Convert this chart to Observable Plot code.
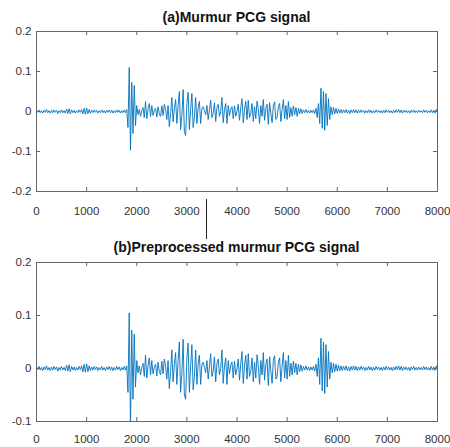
<!DOCTYPE html>
<html>
<head>
<meta charset="utf-8">
<script src="https://cdn.jsdelivr.net/npm/d3@7"></script>
<script src="https://cdn.jsdelivr.net/npm/@observablehq/plot@0.6"></script>
<style>
  html, body { margin: 0; padding: 0; background: #fff; }
  #wrap { position: relative; width: 450px; height: 447px; overflow: hidden; font-family: "Liberation Sans", Arial, sans-serif; }
  .title { position: absolute; left: 36px; width: 401px; text-align: center; font-weight: bold; font-size: 14px; line-height: 16px; color: #111; white-space: nowrap; }
  .panel { position: absolute; left: 0; }
  #cursor { position: absolute; left: 206px; top: 199px; width: 1px; height: 40px; background: #222; }
</style>
</head>
<body>
<div id="wrap">
  <div class="panel" id="pa" style="top:0px"></div>
  <div class="panel" id="pb" style="top:222px"></div>
  <div class="title" style="top:9px">(a)Murmur PCG signal</div>
  <div class="title" style="top:239px">(b)Preprocessed murmur PCG signal</div>
  <div id="cursor"></div>
</div>
<script>
// sample spacing of the listed values (samples)
const sampleStep = 25;
// amplitudes in thousandths, one every 25 samples from 0 to 8000
const murmurSignal = [
  3,-2,4,-3,2,-4,3,-2,5,-3,
  2,-4,3,-3,4,-2,3,-5,2,-3,
  4,-3,2,-4,6,-5,7,-6,4,-3,
  3,-4,2,-3,4,-2,5,-6,8,-7,
  9,-6,5,-4,3,-3,4,-2,3,-4,
  2,-3,4,-3,2,-4,3,-2,4,-3,
  3,-4,2,-3,4,-2,3,-4,2,-3,
  4,-3,5,
  -40,110,-97,73,-55,65,-35,15,
  -8,5,-12,2,10,-15,25,-18,5,20,
  -12,15,-10,2,8,-14,12,-6,-12,14,
  -10,18,5,-20,15,-38,-5,35,-25,8,
  30,-30,15,50,-45,-10,55,-50,-60,20,
  48,-45,5,45,-40,-15,35,-30,10,25,
  -30,8,
  12,2,-8,15,-20,5,28,-15,-5,22,
  -25,10,18,-12,0,35,-28,5,20,-30,
  15,-10,6,12,-18,14,-12,0,18,-22,
  10,32,-28,5,25,-20,28,-15,-5,20,
  -25,12,-18,26,5,-30,15,-12,30,-22,
  8,18,-32,22,-5,-28,15,24,-20,-15,
  12,20,-25,5,30,-18,15,-20,25,-15,
  10,-12,14,-8,10,-12,8,-6,7,-5,
  4,-3,5,-3,
  3,-4,3,-3,4,-5,8,-15,20,-30,58,-42,50,-47,45,-35,32,-20,
  12,-8,10,-6,8,-5,6,-4,5,-4,
  4,-3,5,-4,3,-5,4,-3,5,-3,
  4,-4,3,-3,4,-2,3,-4,2,-3,
  4,-3,3,-4,2,-3,4,-2,3,-3,
  2,-4,3,-3,4,-2,3,-3,2,-4,
  3,-3,4,-2,5,-3,4,-4,3,-2,
  3,-3,2,-4,3,-2,4,-3,2,-3,
  3,-2,2,-3,4,-2,3,-3,2,-3,
  4,-3,3,-4,5,-3
];
const preprocessedSignal = [
  3,-2,4,-3,2,-4,3,-2,5,-3,
  2,-4,3,-3,4,-2,3,-5,2,-3,
  4,-3,2,-4,6,-5,7,-6,4,-3,
  3,-4,2,-3,4,-2,5,-6,8,-7,
  9,-6,5,-4,3,-3,4,-2,3,-4,
  2,-3,4,-3,2,-4,3,-2,4,-3,
  3,-4,2,-3,4,-2,3,-4,2,-3,
  4,-3,5,
  -45,105,-115,72,-58,65,-35,15,
  -8,5,-12,2,10,-15,25,-18,5,20,
  -12,15,-10,2,8,-14,12,-6,-12,14,
  -10,18,5,-20,15,-38,-5,35,-25,8,
  30,-30,15,50,-45,-10,55,-50,-58,20,
  48,-45,5,45,-40,-15,35,-30,10,25,
  -30,8,
  12,2,-8,15,-20,5,28,-15,-5,22,
  -25,10,18,-12,0,35,-28,5,20,-30,
  15,-10,6,12,-18,14,-12,0,18,-22,
  10,32,-28,5,25,-20,28,-15,-5,20,
  -25,12,-18,26,5,-30,15,-12,30,-22,
  8,18,-32,22,-5,-28,15,24,-20,-15,
  12,20,-25,5,30,-18,15,-20,25,-15,
  10,-12,14,-8,10,-12,8,-6,7,-5,
  4,-3,5,-3,
  3,-4,3,-3,4,-5,8,-15,20,-30,57,-42,50,-47,45,-35,32,-20,
  12,-8,10,-6,8,-5,6,-4,5,-4,
  4,-3,5,-4,3,-5,4,-3,5,-3,
  4,-4,3,-3,4,-2,3,-4,2,-3,
  4,-3,3,-4,2,-3,4,-2,3,-3,
  2,-4,3,-3,4,-2,3,-3,2,-4,
  3,-3,4,-2,5,-3,4,-4,3,-2,
  3,-3,2,-4,3,-2,4,-3,2,-3,
  3,-2,2,-3,4,-2,3,-3,2,-3,
  4,-3,3,-4,5,-3
];
const xTicks = [0, 1000, 2000, 3000, 4000, 5000, 6000, 7000, 8000];
const yTicksA = [-0.2, -0.1, 0, 0.1, 0.2];
const yTicksB = [-0.1, 0, 0.1, 0.2];

function panel({values, yDomain, yTicks, height, marginTop, marginBottom, xPad}) {
  const data = values.map((v, i) => ({x: i * sampleStep, y: v / 1000}));
  const axisColor = "#666";
  const [y0, y1] = yDomain;
  return Plot.plot({
    width: 450, height,
    marginLeft: 36, marginRight: 13, marginTop, marginBottom,
    x: {domain: [0, 8000], label: null},
    y: {domain: yDomain, label: null},
    style: {fontFamily: "'Liberation Sans', Arial, sans-serif", fontSize: "11.5px", color: "#333", background: "transparent", overflow: "visible"},
    marks: [
      Plot.lineY(data, {x: "x", y: "y", stroke: "#0072BD", strokeWidth: 0.9, clip: true}),
      Plot.frame({stroke: axisColor, strokeWidth: 1}),
      Plot.ruleX(xTicks, {x: d => d, y1: () => y0, y2: () => y0, insetTop: 0, insetBottom: 4, stroke: axisColor}),
      Plot.ruleX(xTicks, {x: d => d, y1: () => y1, y2: () => y1, insetTop: 4, insetBottom: 0, stroke: axisColor}),
      Plot.ruleY(yTicks, {y: d => d, x1: () => 0, x2: () => 0, insetLeft: 4, insetRight: 0, stroke: axisColor}),
      Plot.ruleY(yTicks, {y: d => d, x1: () => 8000, x2: () => 8000, insetLeft: 0, insetRight: 4, stroke: axisColor}),
      Plot.axisX(xTicks, {anchor: "bottom", label: null, tickSize: 0, tickPadding: xPad, tickFormat: d => String(d), fill: "#333"}),
      Plot.axisY(yTicks, {anchor: "left", label: null, tickSize: 0, tickPadding: 5, tickFormat: d => String(d), fill: "#333"})
    ]
  });
}

document.getElementById("pa").append(panel({
  values: murmurSignal, yDomain: [-0.2, 0.2], yTicks: yTicksA,
  height: 222, marginTop: 31, marginBottom: 31, xPad: 15
}));
document.getElementById("pb").append(panel({
  values: preprocessedSignal, yDomain: [-0.1, 0.2], yTicks: yTicksB,
  height: 225, marginTop: 40, marginBottom: 26, xPad: 13
}));
</script>
</body>
</html>
